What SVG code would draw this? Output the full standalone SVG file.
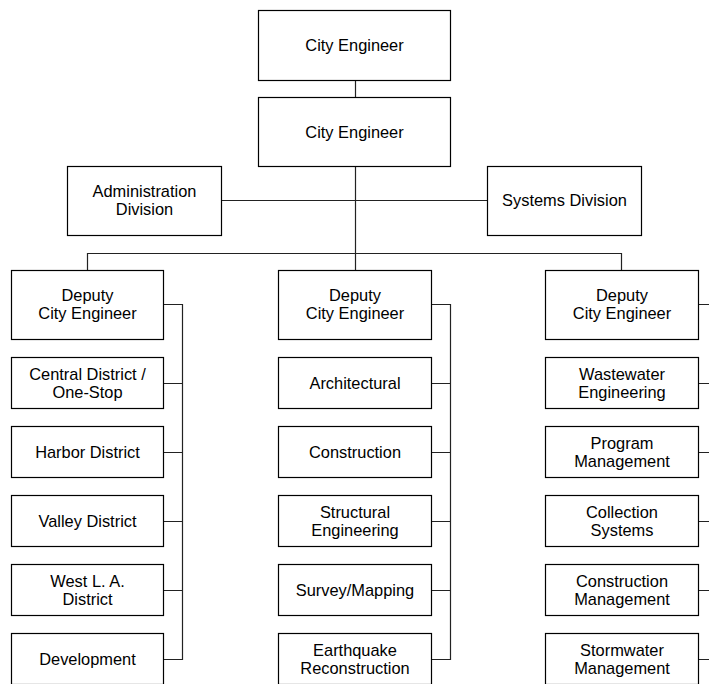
<svg xmlns="http://www.w3.org/2000/svg" width="709" height="684" viewBox="0 0 709 684">
<style>
.box{fill:#fff;stroke:#000;stroke-width:1.2}
.t{font-family:"Liberation Sans",Arial,sans-serif;font-size:16.4px;fill:#000;text-anchor:middle}
.c{fill:none;stroke:#222;stroke-width:1.2}
</style>
<rect width="709" height="684" fill="#fff"/>
<g id="connectors">
<path class="c" d="M355.5 80V97"/>
<path class="c" d="M355.5 166V270"/>
<path class="c" d="M221 200.5H487"/>
<path class="c" d="M87.5 270V253.5H621.5V270"/>
<path class="c" d="M163 304.5H182.5M163 383.5H182.5M163 452.5H182.5M163 521.5H182.5M163 590.5H182.5M163 659.5H182.5M182.5 304V660"/>
<path class="c" d="M431 304.5H450.5M431 383.5H450.5M431 452.5H450.5M431 521.5H450.5M431 590.5H450.5M431 659.5H450.5M450.5 304V660"/>
<path class="c" d="M698 304.5H712M698 383.5H712M698 452.5H712M698 521.5H712M698 590.5H712M698 659.5H712"/>
</g>
<g id="top"><rect class="box" x="258.5" y="10.5" width="192" height="70"/><text class="t" x="354.5" y="51">City Engineer</text></g>
<g id="ce2"><rect class="box" x="258.5" y="97.5" width="192" height="69"/><text class="t" x="354.5" y="137.5">City Engineer</text></g>
<g id="admin"><rect class="box" x="67.5" y="166.5" width="154" height="69"/><text class="t" x="144.5" y="197">Administration</text><text class="t" x="144.5" y="215">Division</text></g>
<g id="systems"><rect class="box" x="487.5" y="166.5" width="154" height="69"/><text class="t" x="564.5" y="206">Systems Division</text></g>

<g id="dep1"><rect class="box" x="11.5" y="270.5" width="152" height="69"/><text class="t" x="87.5" y="301">Deputy</text><text class="t" x="87.5" y="319">City Engineer</text></g>
<g id="central"><rect class="box" x="11.5" y="357.5" width="152" height="51"/><text class="t" x="87.5" y="379.5">Central District /</text><text class="t" x="87.5" y="397.5">One-Stop</text></g>
<g id="harbor"><rect class="box" x="11.5" y="426.5" width="152" height="51"/><text class="t" x="87.5" y="457.5">Harbor District</text></g>
<g id="valley"><rect class="box" x="11.5" y="495.5" width="152" height="51"/><text class="t" x="87.5" y="526.5">Valley District</text></g>
<g id="westla"><rect class="box" x="11.5" y="564.5" width="152" height="51"/><text class="t" x="87.5" y="586.5">West L. A.</text><text class="t" x="87.5" y="604.5">District</text></g>
<g id="development"><rect class="box" x="11.5" y="633.5" width="152" height="51"/><text class="t" x="87.5" y="664.5">Development</text></g>

<g id="dep2"><rect class="box" x="278.5" y="270.5" width="153" height="69"/><text class="t" x="355" y="301">Deputy</text><text class="t" x="355" y="319">City Engineer</text></g>
<g id="architectural"><rect class="box" x="278.5" y="357.5" width="153" height="51"/><text class="t" x="355" y="388.5">Architectural</text></g>
<g id="construction"><rect class="box" x="278.5" y="426.5" width="153" height="51"/><text class="t" x="355" y="457.5">Construction</text></g>
<g id="structural"><rect class="box" x="278.5" y="495.5" width="153" height="51"/><text class="t" x="355" y="517.5">Structural</text><text class="t" x="355" y="535.5">Engineering</text></g>
<g id="survey"><rect class="box" x="278.5" y="564.5" width="153" height="51"/><text class="t" x="355" y="595.5">Survey/Mapping</text></g>
<g id="earthquake"><rect class="box" x="278.5" y="633.5" width="153" height="51"/><text class="t" x="355" y="655.5">Earthquake</text><text class="t" x="355" y="673.5">Reconstruction</text></g>

<g id="dep3"><rect class="box" x="545.5" y="270.5" width="153" height="69"/><text class="t" x="622" y="301">Deputy</text><text class="t" x="622" y="319">City Engineer</text></g>
<g id="wastewater"><rect class="box" x="545.5" y="357.5" width="153" height="51"/><text class="t" x="622" y="379.5">Wastewater</text><text class="t" x="622" y="397.5">Engineering</text></g>
<g id="program"><rect class="box" x="545.5" y="426.5" width="153" height="51"/><text class="t" x="622" y="448.5">Program</text><text class="t" x="622" y="466.5">Management</text></g>
<g id="collection"><rect class="box" x="545.5" y="495.5" width="153" height="51"/><text class="t" x="622" y="517.5">Collection</text><text class="t" x="622" y="535.5">Systems</text></g>
<g id="constmgmt"><rect class="box" x="545.5" y="564.5" width="153" height="51"/><text class="t" x="622" y="586.5">Construction</text><text class="t" x="622" y="604.5">Management</text></g>
<g id="stormwater"><rect class="box" x="545.5" y="633.5" width="153" height="51"/><text class="t" x="622" y="655.5">Stormwater</text><text class="t" x="622" y="673.5">Management</text></g>
</svg>
